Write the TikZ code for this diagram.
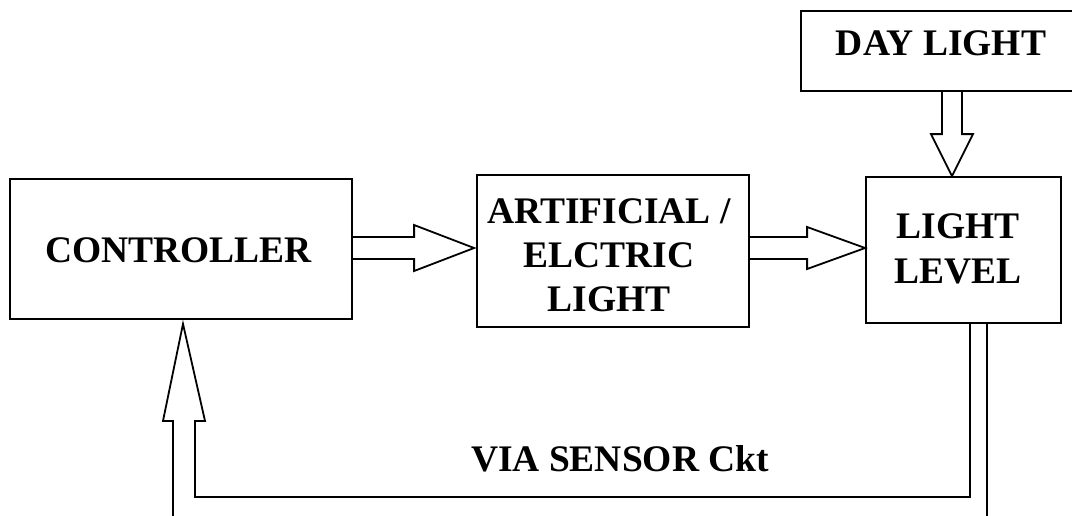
\documentclass[tikz,border=0pt]{standalone}
\usepackage{fontspec}
\setmainfont{Liberation Serif}
\usetikzlibrary{calc}
\begin{document}
\begin{tikzpicture}[x=1pt,y=-1pt,line width=1.8pt,
  box/.style={draw,rectangle,inner sep=0pt},
  lbl/.style={font=\fontsize{37.5}{44}\selectfont\bfseries,align=center,inner sep=0pt,anchor=base},
  hollow/.style={draw,line join=miter}]
\useasboundingbox (0,0) rectangle (1072,515);
% boxes
\node[box,minimum width=342pt,minimum height=140pt] (ctrl) at (181,249) {};
\node[box,minimum width=272pt,minimum height=152pt] (art) at (613,251) {};
\node[box,minimum width=195pt,minimum height=146pt] (light) at (963.5,250) {};
\node[box,minimum width=280pt,minimum height=80pt] (day) at (941,51) {};
% labels
\node[lbl] (ctrltxt) at (178.5,262) {CONTROLLER};
\node[lbl] (arttxt) at (609,311) {ARTIFICIAL /\\ELCTRIC\\LIGHT};
\node[lbl,font=\fontsize{37.5}{45}\selectfont\bfseries] (lighttxt) at (958,283) {LIGHT\\LEVEL};
\node[lbl] (daytxt) at (941,55) {DAY LIGHT};
\node[lbl] (viatxt) at (620,471) {VIA SENSOR Ckt};
% arrow controller -> artificial light
\coordinate (a1s) at ($(ctrl.east)+(0,-1)$);
\coordinate (a1e) at (a1s -| art.west);
\path[hollow] let \p1=(a1s), \p2=(a1e) in
  (\x1,\y1+11pt) -- (\x2-62pt,\y1+11pt) -- (\x2-62pt,\y1+23pt) -- (\x2-2pt,\y1)
  -- (\x2-62pt,\y1-23pt) -- (\x2-62pt,\y1-11pt) -- (\x1,\y1-11pt);
% arrow artificial light -> light level
\coordinate (a2s) at (a1s -| art.east);
\coordinate (a2e) at (a1s -| light.west);
\path[hollow] let \p1=(a2s), \p2=(a2e) in
  (\x1,\y1+11pt) -- (\x2-58pt,\y1+11pt) -- (\x2-58pt,\y1+21pt) -- (\x2,\y1)
  -- (\x2-58pt,\y1-21pt) -- (\x2-58pt,\y1-11pt) -- (\x1,\y1-11pt);
% arrow day light -> light level
\coordinate (a3s) at ($(day.south)+(11,0)$);
\coordinate (a3e) at (a3s |- light.north);
\path[hollow] let \p1=(a3s), \p2=(a3e) in
  (\x1-10pt,\y1) -- (\x1-10pt,\y2+42pt) -- (\x1-21pt,\y2+42pt) -- (\x1,\y2)
  -- (\x1+21pt,\y2+42pt) -- (\x1+10pt,\y2+42pt) -- (\x1+10pt,\y1);
% feedback via sensor circuit
\coordinate (fbL) at ($(light.south)+(6.5,0)$);
\coordinate (fbR) at ($(light.south)+(23.5,0)$);
\coordinate (fbT) at ($(ctrl.south)+(2,4)$);
\draw[line join=miter] (fbL) -- ++(0,173) -| ($(fbT)+(12,97)$) -- ++(10,0) -- (fbT)
  -- ($(fbT)+(-20,97)$) -- ++(10,0) -- ++(0,100);
\draw (fbR) -- ++(0,200);
\end{tikzpicture}
\end{document}
